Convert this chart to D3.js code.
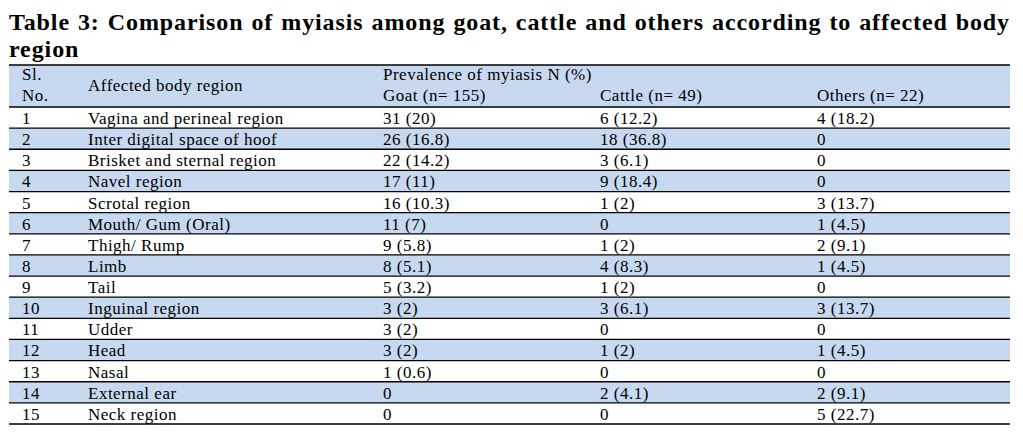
<!DOCTYPE html>
<html>
<head>
<meta charset="utf-8">
<script src="https://cdn.jsdelivr.net/npm/d3@7"></script>
<style>
  html, body { margin: 0; padding: 0; background: #fff; }
  svg text { font-family: "Liberation Serif", "Times New Roman", serif; fill: #000; }
</style>
</head>
<body>
<div id="chart"></div>
<script>
// Table 3 values
const slNo = [1, 2, 3, 4, 5, 6, 7, 8, 9, 10, 11, 12, 13, 14, 15];
const regions = [
  "Vagina and perineal region", "Inter digital space of hoof", "Brisket and sternal region",
  "Navel region", "Scrotal region", "Mouth/ Gum (Oral)", "Thigh/ Rump", "Limb", "Tail",
  "Inguinal region", "Udder", "Head", "Nasal", "External ear", "Neck region"
];
const goatN = [31, 26, 22, 17, 16, 11, 9, 8, 5, 3, 3, 3, 1, 0, 0];
const goatPct = ["20", "16.8", "14.2", "11", "10.3", "7", "5.8", "5.1", "3.2", "2", "2", "2", "0.6", "", ""];
const cattleN = [6, 18, 3, 9, 1, 0, 1, 4, 1, 3, 0, 1, 0, 2, 0];
const cattlePct = ["12.2", "36.8", "6.1", "18.4", "2", "", "2", "8.3", "2", "6.1", "", "2", "", "4.1", ""];
const othersN = [4, 0, 0, 0, 3, 1, 2, 1, 0, 3, 0, 1, 0, 2, 5];
const othersPct = ["18.2", "", "", "", "13.7", "4.5", "9.1", "4.5", "", "13.7", "", "4.5", "", "9.1", "22.7"];
const groupLabels = ["Goat (n= 155)", "Cattle (n= 49)", "Others (n= 22)"];
const titleLines = [
  "Table 3: Comparison of myiasis among goat, cattle and others according to affected body",
  "region"
];

const W = 1023, H = 437;
const left = 9, right = 1010;
const headTop = 65, headBottom = 107, tableBottom = 424;
const blue = "#c6d9f1";

const fmt = (n, p) => n === 0 ? "0" : `${n} (${p})`;
const rows = slNo.map((s, i) => ({
  sl: s, region: regions[i],
  goat: fmt(goatN[i], goatPct[i]),
  cattle: fmt(cattleN[i], cattlePct[i]),
  others: fmt(othersN[i], othersPct[i])
}));

const cols = ["sl", "region", "goat", "cattle", "others"];
const x = d3.scaleOrdinal().domain(cols).range([22, 88, 383, 600, 817]);
const y = d3.scaleBand().domain(slNo).range([headBottom, tableBottom]);

const svg = d3.select("#chart").append("svg")
  .attr("width", W).attr("height", H).attr("viewBox", `0 0 ${W} ${H}`);

// title, first line justified to the table width
svg.selectAll("text.title").data(titleLines).join("text")
  .attr("class", "title")
  .attr("x", left).attr("y", (d, i) => 30 + i * 27)
  .attr("font-size", 24).attr("font-weight", "bold")
  .attr("letter-spacing", 0.9)
  .text(d => d)
  .each(function (d, i) {
    if (i > 0) return;
    const gaps = d.split(" ").length - 1;
    const extra = (right - left) - this.getComputedTextLength();
    d3.select(this).attr("word-spacing", extra / gaps);
  });

// header band
svg.append("rect")
  .attr("x", left).attr("y", headTop).attr("width", right - left).attr("height", headBottom - headTop)
  .attr("fill", blue);

// striped rows (even rows shaded)
svg.selectAll("rect.row").data(rows).join("rect").attr("class", "row")
  .attr("x", left).attr("width", right - left)
  .attr("y", d => y(d.sl)).attr("height", y.bandwidth())
  .attr("fill", d => d.sl % 2 === 0 ? blue : "#fff");

// rules
const rules = [headTop, headBottom].concat(slNo.map(s => y(s) + y.bandwidth()));
svg.selectAll("line.rule").data(rules).join("line").attr("class", "rule")
  .attr("x1", left).attr("x2", right)
  .attr("y1", d => d).attr("y2", d => d)
  .attr("stroke", "#000").attr("stroke-width", 1.3);

// header text
const head = svg.append("g").attr("font-size", 17).attr("letter-spacing", 0.5);
head.append("text").attr("x", x("sl")).attr("y", 80).text("Sl.");
head.append("text").attr("x", x("sl")).attr("y", 101).text("No.");
head.append("text").attr("x", x("region")).attr("y", 91).text("Affected body region");
head.append("text").attr("x", x("goat")).attr("y", 80).text("Prevalence of myiasis N (%)");
head.selectAll("text.grp").data(groupLabels).join("text").attr("class", "grp")
  .attr("x", (d, i) => x(cols[i + 2])).attr("y", 101).text(d => d);

// body cells
const body = svg.append("g").attr("font-size", 17).attr("letter-spacing", 0.5);
cols.forEach(c => {
  body.selectAll(`text.c-${c}`).data(rows).join("text").attr("class", `c-${c}`)
    .attr("x", x(c))
    .attr("y", d => y(d.sl) + 17)
    .text(d => d[c]);
});
</script>
</body>
</html>
